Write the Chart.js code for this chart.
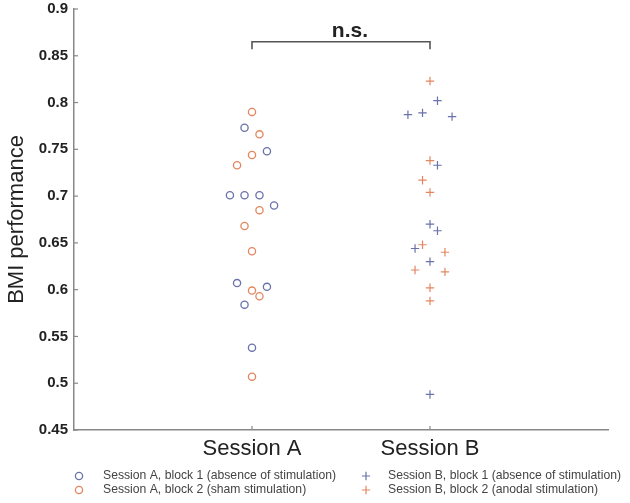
<!DOCTYPE html>
<html lang="en">
<head>
  <meta charset="UTF-8">
  <title>BMI performance</title>
  <script src="https://cdn.jsdelivr.net/npm/chart.js"></script>
  <style>
    html, body { margin: 0; padding: 0; background: #fff; }
    #wrap { width: 630px; height: 503px; position: relative; }
  </style>
</head>
<body>
  <div id="wrap"><canvas id="bmiChart"></canvas></div>

  <script>
    // categories on the x axis (placed at x = 1 and x = 2)
    const categories = ['Session A', 'Session B'];
    const yTicks = [0.45, 0.5, 0.55, 0.6, 0.65, 0.7, 0.75, 0.8, 0.85, 0.9];

    // Session A, block 1 (absence of stimulation)
    const a1Perf   = [0.773, 0.748, 0.701, 0.701, 0.701, 0.690, 0.607, 0.603, 0.584, 0.538];
    const a1Jitter = [-0.042, 0.084, -0.124, -0.042, 0.042, 0.124, -0.084, 0.084, -0.042, 0];
    // Session A, block 2 (sham stimulation)
    const a2Perf   = [0.790, 0.766, 0.744, 0.733, 0.685, 0.668, 0.641, 0.599, 0.593, 0.507];
    const a2Jitter = [0, 0.042, 0, -0.084, 0.042, -0.042, 0, 0, 0.042, 0];
    // Session B, block 1 (absence of stimulation)
    const b1Perf   = [0.802, 0.787, 0.789, 0.785, 0.733, 0.670, 0.663, 0.644, 0.630, 0.488];
    const b1Jitter = [0.042, -0.124, -0.042, 0.124, 0.042, 0, 0.042, -0.084, 0, 0];
    // Session B, block 2 (anodal stimulation)
    const b2Perf   = [0.823, 0.738, 0.717, 0.704, 0.648, 0.640, 0.621, 0.619, 0.602, 0.588];
    const b2Jitter = [0, 0, -0.042, 0, -0.042, 0.084, -0.084, 0.084, 0, 0];

    // significance bracket between the sessions
    const bracketX = [1, 2];
    const bracketTop = 0.865;
    const bracketFoot = 0.857;
    const bracketLabel = 'n.s.';

    const legendLabels = [
      'Session A, block 1 (absence of stimulation)',
      'Session A, block 2 (sham stimulation)',
      'Session B, block 1 (absence of stimulation)',
      'Session B, block 2 (anodal stimulation)'
    ];

    const BLUE = '#6a72aa';
    const ORANGE = '#e3865f';
    const FONT = '"Liberation Sans", Arial, Helvetica, sans-serif';

    const toPoints = (perf, jitter, cat) => perf.map((v, i) => ({ x: cat + jitter[i], y: v }));

    const datasets = [
      { label: legendLabels[0], data: toPoints(a1Perf, a1Jitter, 1), pointStyle: 'circle', radius: 3.6, borderWidth: 1.3, borderColor: BLUE, backgroundColor: 'rgba(0,0,0,0)' },
      { label: legendLabels[1], data: toPoints(a2Perf, a2Jitter, 1), pointStyle: 'circle', radius: 3.6, borderWidth: 1.3, borderColor: ORANGE, backgroundColor: 'rgba(0,0,0,0)' },
      { label: legendLabels[2], data: toPoints(b1Perf, b1Jitter, 2), pointStyle: 'cross', radius: 4.2, borderWidth: 1.2, borderColor: BLUE, backgroundColor: BLUE },
      { label: legendLabels[3], data: toPoints(b2Perf, b2Jitter, 2), pointStyle: 'cross', radius: 4.2, borderWidth: 1.2, borderColor: ORANGE, backgroundColor: ORANGE },
      {
        label: 'bracket',
        data: [
          { x: bracketX[0], y: bracketFoot }, { x: bracketX[0], y: bracketTop },
          { x: bracketX[1], y: bracketTop }, { x: bracketX[1], y: bracketFoot }
        ],
        showLine: true, radius: 0, borderColor: '#555', borderWidth: 1.6, fill: false
      }
    ];

    // inward tick marks, the "n.s." label and the two-column legend
    const extras = {
      id: 'extras',
      afterDraw(chart) {
        const ctx = chart.ctx;
        const xs = chart.scales.x, ys = chart.scales.y;
        const area = chart.chartArea;
        ctx.save();
        ctx.strokeStyle = '#888';
        ctx.lineWidth = 1.2;
        yTicks.forEach(t => {
          const py = ys.getPixelForValue(t);
          ctx.beginPath(); ctx.moveTo(area.left, py); ctx.lineTo(area.left + 4, py); ctx.stroke();
        });
        [1, 2].forEach(t => {
          const px = xs.getPixelForValue(t);
          ctx.beginPath(); ctx.moveTo(px, area.bottom); ctx.lineTo(px, area.bottom - 4); ctx.stroke();
        });

        ctx.fillStyle = '#222';
        ctx.font = 'bold 21px ' + FONT;
        ctx.textAlign = 'center';
        ctx.textBaseline = 'alphabetic';
        ctx.fillText(bracketLabel, xs.getPixelForValue(1.55), ys.getPixelForValue(bracketTop) - 5);

        // legend
        const cols = [{ mx: 79, tx: 103 }, { mx: 366, tx: 388 }];
        const rows = [476, 490];
        ctx.font = '12.2px ' + FONT;
        ctx.textAlign = 'left';
        ctx.textBaseline = 'middle';
        for (let i = 0; i < 4; i++) {
          const ds = chart.data.datasets[i];
          const c = cols[Math.floor(i / 2)], y = rows[i % 2];
          ctx.strokeStyle = ds.borderColor;
          ctx.lineWidth = ds.borderWidth;
          ctx.beginPath();
          if (ds.pointStyle === 'circle') {
            ctx.arc(c.mx, y, ds.radius, 0, Math.PI * 2);
          } else {
            ctx.moveTo(c.mx - ds.radius, y); ctx.lineTo(c.mx + ds.radius, y);
            ctx.moveTo(c.mx, y - ds.radius); ctx.lineTo(c.mx, y + ds.radius);
          }
          ctx.stroke();
          ctx.fillStyle = '#444';
          ctx.fillText(ds.label, c.tx, y);
        }
        ctx.restore();
      }
    };

    new Chart(document.getElementById('bmiChart'), {
      type: 'scatter',
      data: { datasets },
      options: {
        responsive: true,
        maintainAspectRatio: false,
        animation: false,
        layout: { padding: { left: 0, right: 22, top: 9, bottom: 0 } },
        plugins: { legend: { display: false }, tooltip: { enabled: false } },
        scales: {
          x: {
            type: 'linear', min: 0, max: 3,
            afterBuildTicks: s => { s.ticks = [{ value: 1 }, { value: 2 }]; },
            afterFit: s => { s.height = 73; s.paddingLeft = 0; s.paddingRight = 0; },
            grid: { display: false, drawTicks: false, tickLength: 0 },
            border: { display: true, color: '#888', width: 1.5 },
            ticks: {
              padding: 6, color: '#222', font: { family: FONT, size: 22 },
              callback: v => categories[v - 1]
            }
          },
          y: {
            type: 'linear', min: 0.45, max: 0.9,
            afterBuildTicks: s => { s.ticks = yTicks.map(v => ({ value: v })); },
            afterFit: s => { s.width = 74; s.paddingTop = 0; s.paddingBottom = 0; },
            grid: { display: false, drawTicks: false, tickLength: 0 },
            border: { display: true, color: '#888', width: 1.5 },
            ticks: {
              padding: 6, color: '#222', font: { family: FONT, size: 15, weight: 'bold' },
              callback: v => String(+v.toFixed(2))
            },
            title: { display: true, text: 'BMI performance', color: '#222', font: { family: FONT, size: 22 }, padding: { top: 4, bottom: 0 } }
          }
        }
      },
      plugins: [extras]
    });
  </script>
</body>
</html>
